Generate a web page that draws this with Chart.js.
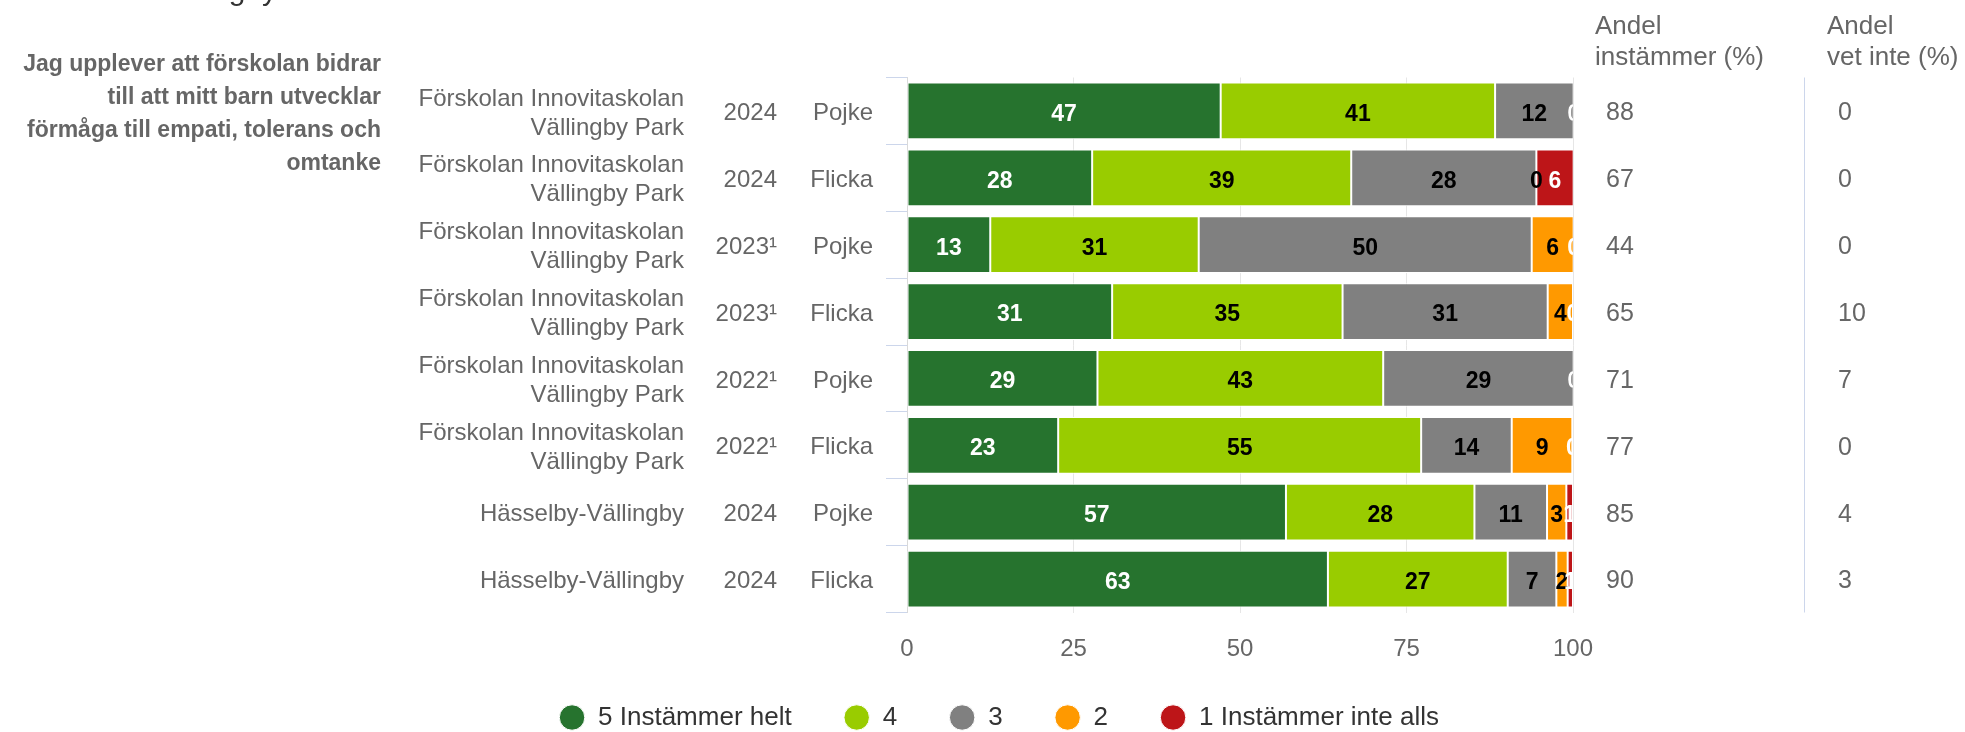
<!DOCTYPE html>
<html>
<head>
<meta charset="utf-8">
<script src="https://cdn.jsdelivr.net/npm/chart.js@4.4.1/dist/chart.umd.min.js"></script>
<style>
  html, body { margin: 0; padding: 0; background: #fff; }
  #wrap { position: relative; width: 1965px; height: 732px; }
</style>
</head>
<body>
<div id="wrap"><canvas id="chart"></canvas></div>
<script>
const FONT = '"Liberation Sans", Arial, Helvetica, sans-serif';

const title = 'Förskolan Vällingby';
const question = [
  'Jag upplever att förskolan bidrar',
  'till att mitt barn utvecklar',
  'förmåga till empati, tolerans och',
  'omtanke'
];

// categories (one bar per row)
const units = [
  ['Förskolan Innovitaskolan', 'Vällingby Park'],
  ['Förskolan Innovitaskolan', 'Vällingby Park'],
  ['Förskolan Innovitaskolan', 'Vällingby Park'],
  ['Förskolan Innovitaskolan', 'Vällingby Park'],
  ['Förskolan Innovitaskolan', 'Vällingby Park'],
  ['Förskolan Innovitaskolan', 'Vällingby Park'],
  ['Hässelby-Vällingby'],
  ['Hässelby-Vällingby']
];
const years = ['2024', '2024', '2023¹', '2023¹', '2022¹', '2022¹', '2024', '2024'];
const genders = ['Pojke', 'Flicka', 'Pojke', 'Flicka', 'Pojke', 'Flicka', 'Pojke', 'Flicka'];

// series (percent)
const seriesNames = ['5 Instämmer helt', '4', '3', '2', '1 Instämmer inte alls'];
const seriesColors = ['#26732e', '#99cc00', '#808080', '#ff9900', '#bd1518'];
const labelColors = ['#ffffff', '#000000', '#000000', '#000000', '#ffffff'];
const s5 = [47.1, 27.8, 12.5, 30.8, 28.6, 22.7, 56.9, 63.2];
const s4 = [41.2, 38.9, 31.3, 34.6, 42.9, 54.5, 28.3, 27.0];
const s3 = [11.8, 27.8, 50.0, 30.8, 28.6, 13.6, 10.9, 7.3];
const s2 = [0, 0, 6.3, 3.8, 0, 9.1, 2.9, 1.7];
const s1 = [0, 5.6, 0, 0, 0, 0, 1.0, 0.8];

// side columns
const andelInstammer = [88, 67, 44, 65, 71, 77, 85, 90];
const andelVetInte = [0, 0, 0, 10, 7, 0, 4, 3];

const xTicks = [0, 25, 50, 75, 100];

const TEXT_DY = 2.5; // text sits slightly below the bar centre

const barLabels = {
  id: 'barLabels',
  afterDatasetsDraw(chart) {
    const { ctx, chartArea } = chart;
    ctx.save();
    ctx.beginPath();
    ctx.rect(chartArea.left, chartArea.top, chartArea.right - chartArea.left, chartArea.bottom - chartArea.top);
    ctx.clip();
    ctx.font = 'bold 23px ' + FONT;
    ctx.textAlign = 'center';
    ctx.textBaseline = 'middle';
    chart.data.datasets.forEach((ds, i) => {
      const meta = chart.getDatasetMeta(i);
      ctx.fillStyle = labelColors[i];
      meta.data.forEach((bar, j) => {
        ctx.fillText(String(Math.round(ds.data[j])), (bar.x + bar.base) / 2, bar.y + TEXT_DY + 1);
      });
    });
    ctx.restore();
  }
};

// the legend sits a bit closer to the axis than its padding allows
const legendShift = {
  id: 'legendShift',
  afterLayout(chart) {
    if (chart.legend) {
      chart.legend.top -= 20;
      chart.legend.bottom -= 20;
    }
  }
};

const sideText = {
  id: 'sideText',
  afterDraw(chart) {
    const ctx = chart.ctx;
    const y = chart.scales.y;
    const area = chart.chartArea;
    ctx.save();

    // title, mostly above the page edge
    ctx.fillStyle = '#333333';
    ctx.font = '30px ' + FONT;
    ctx.textAlign = 'right';
    ctx.textBaseline = 'alphabetic';
    ctx.fillText(title, 277, -0.5);

    // question
    ctx.fillStyle = '#666666';
    ctx.font = 'bold 23px ' + FONT;
    ctx.textBaseline = 'middle';
    question.forEach((line, i) => ctx.fillText(line, 381, 65 + i * 33));

    // row labels
    ctx.font = '24px ' + FONT;
    units.forEach((u, i) => {
      const cy = y.getPixelForValue(i) + TEXT_DY;
      ctx.textAlign = 'right';
      u.forEach((line, k) => ctx.fillText(line, 684, cy + (k - (u.length - 1) / 2) * 29));
      ctx.fillText(years[i], 777, cy);
      ctx.fillText(genders[i], 873, cy);
    });

    // right columns
    ctx.textAlign = 'left';
    ctx.font = '26px ' + FONT;
    ctx.fillText('Andel', 1595, 27);
    ctx.fillText('instämmer (%)', 1595, 58);
    ctx.fillText('Andel', 1827, 27);
    ctx.fillText('vet inte (%)', 1827, 58);
    ctx.font = '25px ' + FONT;
    andelInstammer.forEach((v, i) => ctx.fillText(String(v), 1606, y.getPixelForValue(i) + TEXT_DY));
    andelVetInte.forEach((v, i) => ctx.fillText(String(v), 1838, y.getPixelForValue(i) + TEXT_DY));

    ctx.strokeStyle = '#ccd6eb';
    ctx.lineWidth = 1;
    ctx.beginPath();
    ctx.moveTo(1804.5, area.top);
    ctx.lineTo(1804.5, area.bottom);
    ctx.stroke();
    ctx.restore();
  }
};

const datasets = [s5, s4, s3, s2, s1].map((values, i) => ({
  label: seriesNames[i],
  data: values,
  backgroundColor: seriesColors[i],
  borderColor: '#ffffff',
  borderWidth: 1,
  borderSkipped: false,
  categoryPercentage: 1,
  barPercentage: 0.85
}));

new Chart(document.getElementById('chart'), {
  type: 'bar',
  data: {
    labels: units.map((u, i) => u.join(' ') + ' ' + years[i] + ' ' + genders[i]),
    datasets: datasets
  },
  options: {
    indexAxis: 'y',
    responsive: true,
    maintainAspectRatio: false,
    devicePixelRatio: 1,
    animation: false,
    layout: {
      padding: { left: 425, right: 392, top: 77.5, bottom: -28.5 }
    },
    plugins: {
      tooltip: { enabled: false },
      legend: {
        position: 'bottom',
        labels: {
          usePointStyle: true,
          pointStyle: 'circle',
          boxHeight: 18,
          boxWidth: 26,
          padding: 52,
          color: '#333333',
          font: { family: FONT, size: 26 }
        }
      }
    },
    scales: {
      x: {
        stacked: true,
        min: 0,
        max: 100,
        afterBuildTicks: (scale) => { scale.ticks = xTicks.map(v => ({ value: v })); },
        afterFit: (scale) => { scale.height = 60; },
        border: { display: false },
        grid: { color: '#e6e6e6', drawTicks: false },
        ticks: {
          padding: 22,
          color: '#666666',
          font: { family: FONT, size: 24 }
        }
      },
      y: {
        stacked: true,
        afterFit: (scale) => { scale.width = 482; },
        border: { display: true, color: '#d9d9d9' },
        grid: {
          offset: true,
          drawOnChartArea: false,
          tickLength: 21,
          color: '#ccd6eb'
        },
        ticks: { display: false }
      }
    }
  },
  plugins: [barLabels, legendShift, sideText]
});
</script>
</body>
</html>
